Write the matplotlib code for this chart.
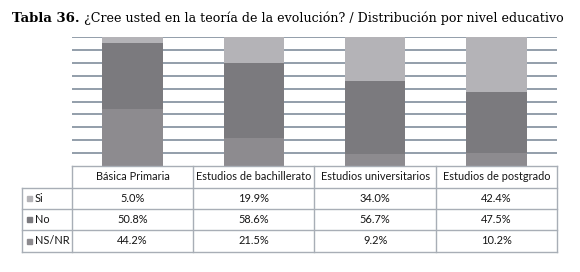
import matplotlib.pyplot as plt
import numpy as np

# data
categories = ["Básica Primaria", "Estudios de bachillerato",
              "Estudios universitarios", "Estudios de postgrado"]
series = ["Si", "No", "NS/NR"]
si = [5.0, 19.9, 34.0, 42.4]
no = [50.8, 58.6, 56.7, 47.5]
nsnr = [44.2, 21.5, 9.2, 10.2]

colors = {"Si": "#b4b3b7", "No": "#7b7a7e", "NS/NR": "#8d8b8f"}
grid_color = "#939eaa"
W, H = 580, 272

fig = plt.figure(figsize=(W / 100, H / 100), dpi=100)
fig.patch.set_facecolor("white")

# plot area in pixel coords
x0, x1 = 72, 557
y_top, y_bot = 37, 166
ax = fig.add_axes([x0 / W, 1 - y_bot / H, (x1 - x0) / W, (y_bot - y_top) / H])

x = np.arange(len(categories))
ax.bar(x, nsnr, width=0.5, color=colors["NS/NR"], zorder=2)
ax.bar(x, no, width=0.5, bottom=nsnr, color=colors["No"], zorder=2)
ax.bar(x, si, width=0.5, bottom=np.add(nsnr, no), color=colors["Si"], zorder=2)

ax.set_xlim(-0.5, len(categories) - 0.5)
ax.set_ylim(0, 100)
for v in range(10, 101, 10):
    ax.axhline(v, color=grid_color, lw=1.4, zorder=1)
ax.axis("off")

# title
fig.text(12 / W, 1 - 18 / H, "Tabla 36.", fontsize=9.5, fontweight="bold",
         family="DejaVu Serif", va="center", ha="left")
fig.text(84 / W, 1 - 18 / H,
         "¿Cree usted en la teoría de la evolución? / Distribución por nivel educativo",
         fontsize=9.1, family="DejaVu Serif", va="center", ha="left")

# data table below the bars
line_c = "#a8aeb6"
col_edges = [x0 + i * (x1 - x0) / 4 for i in range(5)]
row_edges = [166, 188, 209, 230, 252]
lab_left = 22

def fx(px):
    return px / W

def fy(py):
    return 1 - py / H

tfont = dict(family="Lato", fontsize=7.9, color="#151515")

# horizontal lines
fig.add_artist(plt.Line2D([fx(x0), fx(x1)], [fy(row_edges[0])] * 2, color=line_c, lw=1))
for ry in row_edges[1:]:
    fig.add_artist(plt.Line2D([fx(lab_left), fx(x1)], [fy(ry)] * 2, color=line_c, lw=1))
# vertical lines
for cx in col_edges:
    fig.add_artist(plt.Line2D([fx(cx)] * 2, [fy(row_edges[0]), fy(row_edges[-1])], color=line_c, lw=1))
fig.add_artist(plt.Line2D([fx(lab_left)] * 2, [fy(row_edges[1]), fy(row_edges[-1])], color=line_c, lw=1))

# header
for i, cat in enumerate(categories):
    cx = (col_edges[i] + col_edges[i + 1]) / 2
    fig.text(fx(cx), fy((row_edges[0] + row_edges[1]) / 2), cat,
             ha="center", va="center", **tfont)

rows = {"Si": si, "No": no, "NS/NR": nsnr}
for r, name in enumerate(series):
    cy = (row_edges[r + 1] + row_edges[r + 2]) / 2
    fig.add_artist(plt.Rectangle((fx(lab_left + 5), fy(cy + 2.5)), 5 / W, 5 / H,
                                 color=colors[name], transform=fig.transFigure))
    fig.text(fx(lab_left + 13), fy(cy), name, ha="left", va="center", **tfont)
    for i, val in enumerate(rows[name]):
        cx = (col_edges[i] + col_edges[i + 1]) / 2
        fig.text(fx(cx), fy(cy), f"{val:.1f}%", ha="center", va="center", **tfont)

fig.savefig("out.png", dpi=100)
